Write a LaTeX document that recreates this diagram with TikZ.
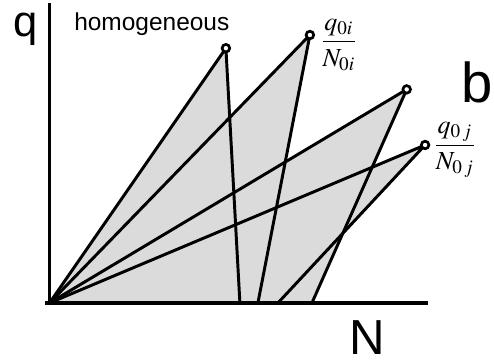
\documentclass[tikz,border=0pt]{standalone}
\usepackage{amsmath}
\usepackage{mathptmx}
\usepackage{fontspec}
\setsansfont{Liberation Sans}
\usepackage{tikz}
\usetikzlibrary{positioning}

\begin{document}
\begin{tikzpicture}[
    fanline/.style={line width=2.1pt, line join=round},
    axisline/.style={line width=2.2pt},
    peakdot/.style={circle, draw, line width=1.9pt, fill=white, inner sep=0pt, minimum size=0.19cm},
    shade/.style={fill=black!14}]
  \useasboundingbox (-1.2375,-1.525) rectangle (11.1125,7.575);
  % Origin, peaks and feet
  \coordinate (O) at (0,0);
  \coordinate (p1) at (4.41,6.37);
  \coordinate (p2) at (6.51,6.70);
  \coordinate (p3) at (8.93,5.34);
  \coordinate (p4) at (9.39,3.95);
  \coordinate (f1) at (4.76,0);
  \coordinate (f2) at (5.21,0);
  \coordinate (f3) at (6.56,0);
  \coordinate (f4) at (5.71,0);
  \coordinate (xa) at (-0.11,0);
  \coordinate (xb) at (9.46,0);
  \coordinate (yb) at (0,7.5);
  % Shaded triangles
  \foreach \i in {1,...,4} {
    \fill[shade] (O) -- (p\i) -- (f\i) -- cycle;
  }
  % Axes
  \draw[axisline] (xa) -- (xb);
  \draw[axisline] (O) -- (yb);
  % Triangle edges
  \foreach \i in {1,...,4} {
    \draw[fanline] (O) -- (p\i) -- (f\i);
  }
  % Peak markers
  \foreach \i in {1,...,4} {
    \node[peakdot] (c\i) at (p\i) {};
  }
  % Labels
  \node[font=\sffamily\fontsize{31}{31}\selectfont, inner sep=0pt, anchor=base] (qlab) at (-0.605,6.65) {q};
  \node[font=\sffamily\fontsize{17.4}{17.4}\selectfont, inner sep=0pt, anchor=base west] (homlab) at (0.6125,6.8) {homogeneous};
  \node[font=\sffamily\fontsize{40}{40}\selectfont, inner sep=0pt, anchor=base] (blab) at (10.7,5.0) {b};
  \node[font=\sffamily\fontsize{35}{35}\selectfont, inner sep=0pt, anchor=base] (Nlab) at (7.94,-1.3) {N};
  \node[font=\fontsize{18.5}{18.5}\selectfont, inner sep=0pt] (fraci) at (7.23,6.45) {$\dfrac{q_{0i}}{N_{0i}}$};
  \node[font=\fontsize{18.5}{18.5}\selectfont, inner sep=0pt] (fracj) at (10.13,3.83) {$\dfrac{q_{0\,j}}{N_{0\,j}}$};
\end{tikzpicture}
\end{document}
